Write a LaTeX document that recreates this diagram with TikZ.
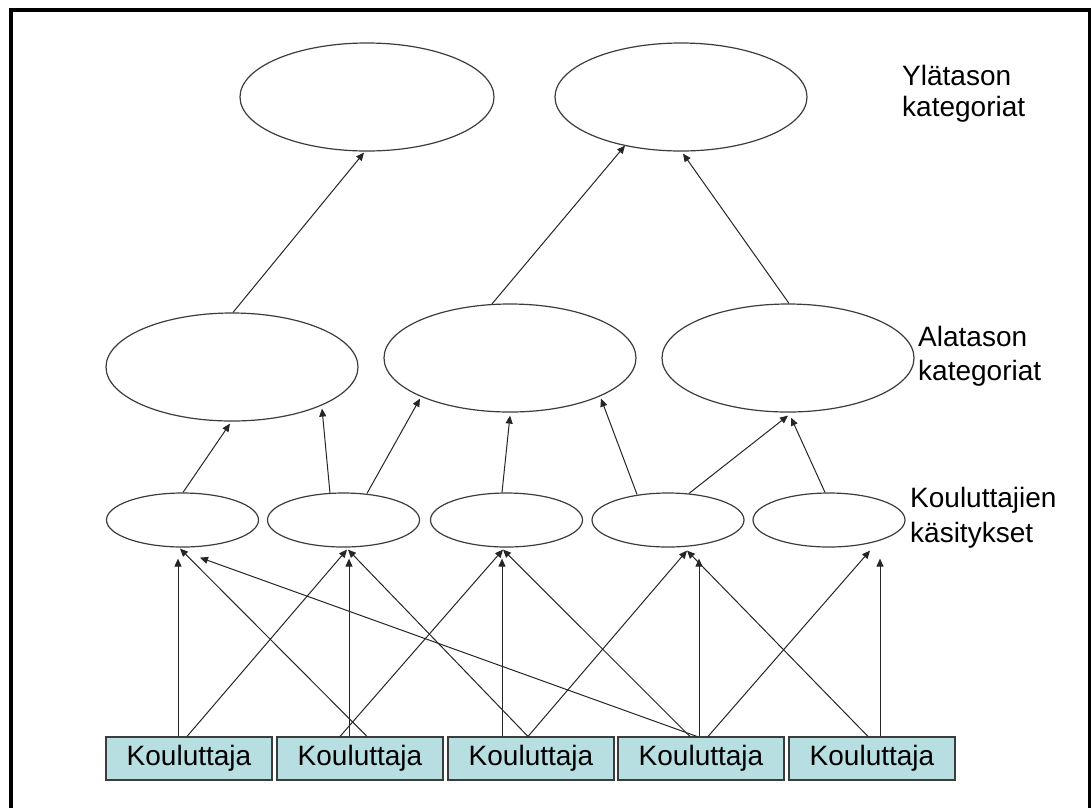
\documentclass[tikz,border=0pt]{standalone}
\usepackage{fontspec}
\setmainfont{Liberation Sans}
\usetikzlibrary{shapes.geometric,arrows.meta,calc}

\definecolor{boxfill}{RGB}{183,222,224}
\definecolor{edgegray}{RGB}{60,60,60}

\begin{document}
\begin{tikzpicture}[
  x=1pt, y=-1pt,
  category/.style={ellipse, draw=edgegray, line width=1.2pt, inner sep=0pt,
                   minimum width=252pt, minimum height=108pt},
  view/.style={ellipse, draw=edgegray, line width=1.2pt, inner sep=0pt,
               minimum width=152pt, minimum height=54pt},
  trainer/.style={rectangle, draw=edgegray, line width=1.1pt, fill=boxfill,
                  minimum width=166pt, minimum height=43pt, inner sep=0pt,
                  font=\fontsize{28}{33}\selectfont},
  label/.style={anchor=base west, inner sep=0pt, font=\fontsize{28}{33}\selectfont},
  link/.style={draw=black!85, line width=1pt, -{Triangle[length=8pt,width=7pt]}}
]
\useasboundingbox (0,0) rectangle (1091,807);
\fill[white] (0,0) rectangle (1091,807);
% outer frame, running past the right and bottom edges
\begin{scope}
  \clip (0,0) rectangle (1091,807);
  \draw[line width=4pt] (10.5,10) rectangle (1090,830);
\end{scope}

% top level categories
\node[category, minimum width=254pt] (t1) at (367,97) {};
\node[category] (t2) at (681,97) {};

% lower level categories
\node[category] (m1) at (232,367) {};
\node[category] (m2) at (510,358) {};
\node[category] (m3) at (788,358) {};

% trainers' conceptions
\node[view] (s1) at (182.5,520) {};
\node[view] (s2) at (343.5,520) {};
\node[view] (s3) at (506.5,520) {};
\node[view] (s4) at (668,520) {};
\node[view] (s5) at (829,520) {};

% trainers
\node[trainer] (b1) at (189,758.5) {Kouluttaja};
\node[trainer] (b2) at (360,758.5) {Kouluttaja};
\node[trainer] (b3) at (531,758.5) {Kouluttaja};
\node[trainer] (b4) at (701,758.5) {Kouluttaja};
\node[trainer] (b5) at (872,758.5) {Kouluttaja};

% level captions
\node[label] (capTa) at (902,85)  {Ylätason};
\node[label] (capTb) at (902,116) {kategoriat};
\node[label] (capMa) at (918,346) {Alatason};
\node[label] (capMb) at (918,380) {kategoriat};
\node[label] (capSa) at (910,507) {Kouluttajien};
\node[label] (capSb) at (910,542) {käsitykset};

% trainers -> conceptions
\draw[link] ($(b1.north)+(-11,0)$) -- ($(s1.south)+(-4.5,11)$);
\draw[link] ($(b1.north)+(-2,0)$)  -- ($(s2.south)+(3.5,2)$);
\draw[link] ($(b2.north)+(7,0)$)   -- ($(s1.south)+(-2.5,1)$);
\draw[link] ($(b2.north)+(-11,0)$) -- ($(s2.south)+(5.5,11)$);
\draw[link] ($(b2.north)+(-20,0)$) -- ($(s3.south)+(-3.5,2)$);
\draw[link] ($(b3.north)+(-3,0)$)  -- ($(s2.south)+(4.5,2)$);
\draw[link] ($(b3.north)+(-29,0)$) -- ($(s3.south)+(-4.5,11)$);
\draw[link] ($(b3.north)+(-3,0)$)  -- ($(s4.south)+(19,3)$);
\draw[link] ($(b4.north)+(-4,0)$)  -- ($(s1.south)+(17.5,10)$);
\draw[link] ($(b4.north)+(-11,0)$) -- ($(s3.south)+(-3.5,2)$);
\draw[link] ($(b4.north)+(-2,0)$)  -- ($(s4.south)+(31,11)$);
\draw[link] ($(b4.north)+(7,0)$)   -- ($(s5.south)+(41,3)$);
\draw[link] ($(b5.north)+(-4,0)$)  -- ($(s4.south)+(19,3)$);
\draw[link] ($(b5.north)+(8,0)$)   -- ($(s5.south)+(51,11)$);

% conceptions -> lower level categories
\draw[link] ($(s1.north)+(0.5,0)$)  -- ($(m1.south)+(-2,2)$);
\draw[link] ($(s2.north)+(-13.5,1)$) -- ($(m1.south)+(90,-13)$);
\draw[link] ($(s2.north)+(23.5,1)$) -- ($(m2.south)+(-90,-14)$);
\draw[link] ($(s3.north)+(-4.5,0)$) -- ($(m2.south)+(0,3)$);
\draw[link] ($(s4.north)+(-31,2)$)  -- ($(m2.south)+(91,-14)$);
\draw[link] ($(s4.north)+(21,1)$)   -- ($(m3.south)+(0,3)$);
\draw[link] ($(s5.north)+(-4,0)$)   -- ($(m3.south)+(3,5)$);

% lower level -> top level categories
\draw[link] ($(m1.north)+(1,0)$)   -- ($(t1.south)+(-3,1)$);
\draw[link] ($(m2.north)+(-18,0.5)$) -- ($(t2.south)+(-56,-6)$);
\draw[link] ($(m3.north)+(1,0)$)   -- ($(t2.south)+(2,2)$);
\end{tikzpicture}
\end{document}
